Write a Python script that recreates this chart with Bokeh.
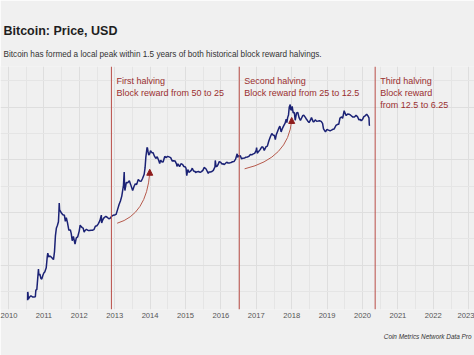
import pandas as pd
from bokeh.plotting import figure
from bokeh.models import Range1d, FixedTicker, Span, Label, Arrow, NormalHead, Title
from bokeh.embed import file_html
from bokeh.resources import INLINE

# ---------------- data ----------------
dates = [
    "2010-07-17", "2010-07-18", "2010-07-21", "2010-07-25", "2010-08-05", "2010-08-20", "2010-09-05",
    "2010-09-20", "2010-10-05", "2010-10-10", "2010-10-20", "2010-10-28", "2010-11-06", "2010-11-10",
    "2010-11-20", "2010-12-01", "2010-12-10", "2010-12-20", "2010-12-31",
    "2011-01-10", "2011-01-25", "2011-02-05", "2011-02-10", "2011-02-20", "2011-03-01", "2011-03-15",
    "2011-03-31", "2011-04-10", "2011-04-20", "2011-04-30", "2011-05-10", "2011-05-20", "2011-05-31",
    "2011-06-05", "2011-06-08", "2011-06-12", "2011-06-20", "2011-07-01", "2011-07-15", "2011-07-31",
    "2011-08-10", "2011-08-20", "2011-09-01", "2011-09-15", "2011-10-01", "2011-10-10", "2011-10-20",
    "2011-11-01", "2011-11-18", "2011-12-01", "2011-12-15", "2011-12-31",
    "2012-01-10", "2012-01-20", "2012-02-01", "2012-02-10", "2012-02-20", "2012-03-01", "2012-03-15",
    "2012-04-01", "2012-04-15", "2012-05-01", "2012-05-15", "2012-06-01", "2012-06-15", "2012-07-01",
    "2012-07-15", "2012-08-01", "2012-08-16", "2012-08-19", "2012-09-01", "2012-09-15", "2012-10-01",
    "2012-10-15", "2012-11-01", "2012-11-15", "2012-12-01", "2012-12-15", "2012-12-31",
    "2013-01-15", "2013-02-01", "2013-02-15", "2013-03-01", "2013-03-15", "2013-04-01", "2013-04-09",
    "2013-04-12", "2013-04-16", "2013-05-01", "2013-05-15", "2013-06-01", "2013-06-15", "2013-07-05",
    "2013-07-20", "2013-08-01", "2013-08-15", "2013-09-01", "2013-09-15", "2013-10-01", "2013-10-15",
    "2013-11-01", "2013-11-10", "2013-11-18", "2013-11-30", "2013-12-04", "2013-12-10", "2013-12-18",
    "2013-12-28",
    "2014-01-05", "2014-01-20", "2014-02-01", "2014-02-15", "2014-03-01", "2014-03-15", "2014-04-01",
    "2014-04-10", "2014-04-20", "2014-05-01", "2014-05-15", "2014-06-01", "2014-06-15", "2014-07-01",
    "2014-07-15", "2014-08-01", "2014-08-18", "2014-09-01", "2014-09-15", "2014-10-01", "2014-10-05",
    "2014-10-15", "2014-11-01", "2014-11-15", "2014-12-01", "2014-12-15", "2014-12-31",
    "2015-01-07", "2015-01-14", "2015-01-25", "2015-02-05", "2015-02-15", "2015-03-01", "2015-03-12",
    "2015-03-25", "2015-04-10", "2015-04-15", "2015-05-01", "2015-05-15", "2015-06-01", "2015-06-15",
    "2015-07-01", "2015-07-12", "2015-07-25", "2015-08-01", "2015-08-24", "2015-09-01", "2015-09-15",
    "2015-10-01", "2015-10-15", "2015-11-01", "2015-11-04", "2015-11-12", "2015-11-20", "2015-12-01",
    "2015-12-15", "2015-12-31",
    "2016-01-15", "2016-01-25", "2016-02-01", "2016-02-15", "2016-03-01", "2016-03-15", "2016-04-01",
    "2016-04-15", "2016-05-01", "2016-05-15", "2016-06-01", "2016-06-17", "2016-06-22", "2016-07-01",
    "2016-07-09", "2016-07-20", "2016-08-02", "2016-08-15", "2016-09-01", "2016-09-15", "2016-10-01",
    "2016-10-15", "2016-11-01", "2016-11-15", "2016-12-01", "2016-12-15", "2016-12-31",
    "2017-01-04", "2017-01-11", "2017-01-25", "2017-02-10", "2017-02-25", "2017-03-10", "2017-03-24",
    "2017-04-10", "2017-04-25", "2017-05-10", "2017-05-25", "2017-06-10", "2017-06-25", "2017-07-05",
    "2017-07-16", "2017-07-25", "2017-08-10", "2017-08-25", "2017-09-01", "2017-09-14", "2017-09-25",
    "2017-10-10", "2017-10-25", "2017-11-05", "2017-11-12", "2017-11-20", "2017-11-29", "2017-12-07",
    "2017-12-17", "2017-12-22", "2017-12-31",
    "2018-01-06", "2018-01-16", "2018-01-28", "2018-02-06", "2018-02-20", "2018-03-05", "2018-03-18",
    "2018-04-01", "2018-04-12", "2018-04-25", "2018-05-05", "2018-05-20", "2018-06-01", "2018-06-15",
    "2018-06-29", "2018-07-10", "2018-07-24", "2018-08-10", "2018-08-20", "2018-09-01", "2018-09-15",
    "2018-10-01", "2018-10-15", "2018-11-01", "2018-11-15", "2018-11-25", "2018-12-15", "2018-12-31",
    "2019-01-15", "2019-02-01", "2019-02-15", "2019-03-01", "2019-03-15", "2019-04-02", "2019-04-20",
    "2019-05-01", "2019-05-14", "2019-05-30", "2019-06-10", "2019-06-26", "2019-07-05", "2019-07-17",
    "2019-08-01", "2019-08-15", "2019-09-01", "2019-09-24", "2019-10-10", "2019-10-26", "2019-11-10",
    "2019-11-25", "2019-12-10", "2019-12-18", "2019-12-31",
    "2020-01-15", "2020-02-01", "2020-02-13", "2020-02-25", "2020-03-08", "2020-03-12", "2020-03-16",
]
price_usd = [
    0.05, 0.086, 0.08, 0.054, 0.061, 0.067, 0.062,
    0.062, 0.063, 0.098, 0.10, 0.19, 0.39, 0.26,
    0.28, 0.21, 0.20, 0.25, 0.30,
    0.32, 0.42, 0.90, 1.10, 0.85, 0.92, 0.87,
    0.78, 0.72, 1.2, 3.5, 5.8, 6.8, 8.7,
    17, 29.6, 19, 17.5, 15.4, 13.8, 13.4,
    8.9, 11.4, 8.2, 5.0, 5.1, 4.0, 2.5,
    3.3, 2.0, 3.0, 3.2, 4.7,
    7.0, 6.3, 5.9, 5.7, 4.4, 4.9, 5.3,
    4.9, 4.9, 5.0, 5.0, 5.2, 6.5, 6.7,
    7.6, 9.4, 13.5, 8.0, 10.1, 11.5, 12.4,
    11.7, 10.6, 11.0, 12.5, 13.3, 13.5,
    14.1, 20, 27, 34, 47, 93, 230,
    110, 68, 116, 114, 129, 100, 68,
    90, 105, 100, 140, 127, 125, 150,
    198, 300, 600, 1130, 1150, 900, 700,
    760,
    930, 820, 810, 650, 560, 630, 480,
    400, 500, 450, 445, 640, 590, 640,
    620, 590, 470, 478, 475, 385, 330,
    395, 325, 395, 380, 330, 320,
    290, 180, 270, 225, 235, 255, 295,
    245, 237, 220, 235, 237, 225, 235,
    260, 310, 290, 280, 210, 230, 230,
    237, 255, 325, 490, 335, 325, 365,
    455, 430,
    385, 400, 375, 400, 435, 415, 418,
    430, 450, 455, 535, 760, 600, 675,
    650, 665, 540, 570, 575, 610, 615,
    640, 730, 710, 755, 780, 960,
    1150, 790, 890, 1000, 1180, 1190, 940,
    1200, 1260, 1760, 2300, 2900, 2550, 2600,
    1930, 2600, 3400, 4350, 4700, 3200, 3900,
    4780, 5700, 7400, 5900, 8200, 9800, 16500,
    19400, 14000, 13500,
    17100, 11300, 11500, 6900, 11200, 11500, 8200,
    6800, 7900, 9400, 9700, 8500, 7500, 6600,
    5900, 6700, 8200, 6300, 6300, 7100, 6500,
    6600, 6700, 6400, 5600, 3900, 3200, 3800,
    3600, 3450, 3600, 3800, 3900, 4900, 5300,
    5300, 8000, 8600, 7800, 12900, 11000, 9400,
    10400, 10300, 9600, 8500, 8600, 9500, 8800,
    7100, 7300, 6650, 7200,
    8800, 9400, 10300, 9300, 8100, 4900, 5000,
]

halving_dates = ["2012-11-28", "2016-07-09", "2020-05-11"]
halving_lines = [
    ["First halving", "Block reward from 50 to 25"],
    ["Second halving", "Block reward from 25 to 12.5"],
    ["Third halving", "Block reward", "from 12.5 to 6.25"],
]

year_ticks = list(range(2010, 2024))
half_year_ticks = [y + 0.5 for y in range(2009, 2024)]
price_ticks = [0.5, 16, 512, 16384, 524288]            # powers of two
price_minor_ticks = [0.088, 2.83, 90.5, 2896, 92682]   # half way between

# annotation arrows: start point, control point, end point, tip (decimal year, USD)
arrow_x0 = [2013.07, 2016.67]
arrow_y0 = [7.9, 283]
arrow_cx = [2013.90, 2017.91]
arrow_cy = [14, 560]
arrow_x1 = [2013.99, 2018.00]
arrow_y1 = [215, 7000]
arrow_tip_y = [275, 8300]

title_text = "Bitcoin: Price, USD"
subtitle_text = "Bitcoin has formed a local peak within 1.5 years of both historical block reward halvings."
source_text = "Coin Metrics Network Data Pro"


def dec_year(s):
    d = pd.Timestamp(s)
    start = pd.Timestamp(year=d.year, month=1, day=1)
    end = pd.Timestamp(year=d.year + 1, month=1, day=1)
    return d.year + (d - start) / (end - start)


x_vals = [dec_year(d) for d in dates]
halving_x = [dec_year(d) for d in halving_dates]

# ---------------- figure ----------------
BG = "#f0f0f0"
FONT = "Liberation Sans"
W, H = 474, 355
PX_PER_YEAR = 35.4
X0 = 2010 - 8 / PX_PER_YEAR

p = figure(width=W, height=H, y_axis_type="log", output_backend="svg", toolbar_location=None,
           x_range=Range1d(X0, X0 + W / PX_PER_YEAR), y_range=Range1d(0.0271, 237000),
           min_border_left=0, min_border_right=0, min_border_top=66, min_border_bottom=46)
p.background_fill_color = BG
p.border_fill_color = BG
p.outline_line_color = None

p.xaxis.ticker = FixedTicker(ticks=year_ticks, minor_ticks=half_year_ticks)
p.xgrid.ticker = FixedTicker(ticks=year_ticks, minor_ticks=half_year_ticks)
p.yaxis.ticker = FixedTicker(ticks=price_ticks, minor_ticks=price_minor_ticks)
p.ygrid.ticker = FixedTicker(ticks=price_ticks, minor_ticks=price_minor_ticks)
p.yaxis.visible = False

for g in (p.xgrid, p.ygrid):
    g.grid_line_color = "#dedede"
    g.grid_line_width = 1
    g.minor_grid_line_color = "#e5e5e5"
    g.minor_grid_line_width = 1

p.xaxis.axis_line_color = None
p.xaxis.major_tick_line_color = None
p.xaxis.minor_tick_line_color = None
p.xaxis.major_tick_out = 0
p.xaxis.major_tick_in = 0
p.xaxis.minor_tick_out = 0
p.xaxis.minor_tick_in = 0
p.xaxis.major_label_standoff = 3
p.xaxis.major_label_text_font = FONT
p.xaxis.major_label_text_font_size = "7.6px"
p.xaxis.major_label_text_color = "#555555"

# halving lines and labels
for hx, lines in zip(halving_x, halving_lines):
    p.add_layout(Span(location=hx, dimension="height", line_color="#b94e48", line_width=1))
    for i, t in enumerate(lines):
        p.add_layout(Label(x=hx, y=229 - 12.3 * i, x_units="data", y_units="screen", x_offset=5,
                           text=t, text_font=FONT, text_font_size="9px", text_color="#9a2f2f",
                           text_baseline="alphabetic"))

# price line
p.line(x_vals, price_usd, line_color="#1b2275", line_width=1.5)

# curved arrows
p.quadratic(x0=arrow_x0, y0=arrow_y0, x1=arrow_x1, y1=arrow_y1, cx=arrow_cx, cy=arrow_cy,
            line_color="#b65a4c", line_width=1)
for ax, ay, ty in zip(arrow_x1, arrow_y1, arrow_tip_y):
    p.add_layout(Arrow(x_start=ax, y_start=ay, x_end=ax, y_end=ty, line_color="#b65a4c", line_width=1,
                       end=NormalHead(size=6, fill_color="#8e1c1c", line_color="#8e1c1c")))

# titles and source note
p.add_layout(Title(text=subtitle_text, align="left", offset=3, standoff=16, text_font=FONT,
                   text_font_size="8.2px", text_font_style="normal", text_color="#333333"), "above")
p.add_layout(Title(text=title_text, align="left", offset=3, standoff=4, text_font=FONT,
                   text_font_size="12.5px", text_font_style="bold", text_color="#1e1e1e"), "above")
p.add_layout(Title(text=source_text, align="right", offset=3, standoff=20, text_font=FONT,
                   text_font_size="6.4px", text_font_style="italic", text_color="#333333"), "below")

open("out.html", "w").write(file_html(p, INLINE))
